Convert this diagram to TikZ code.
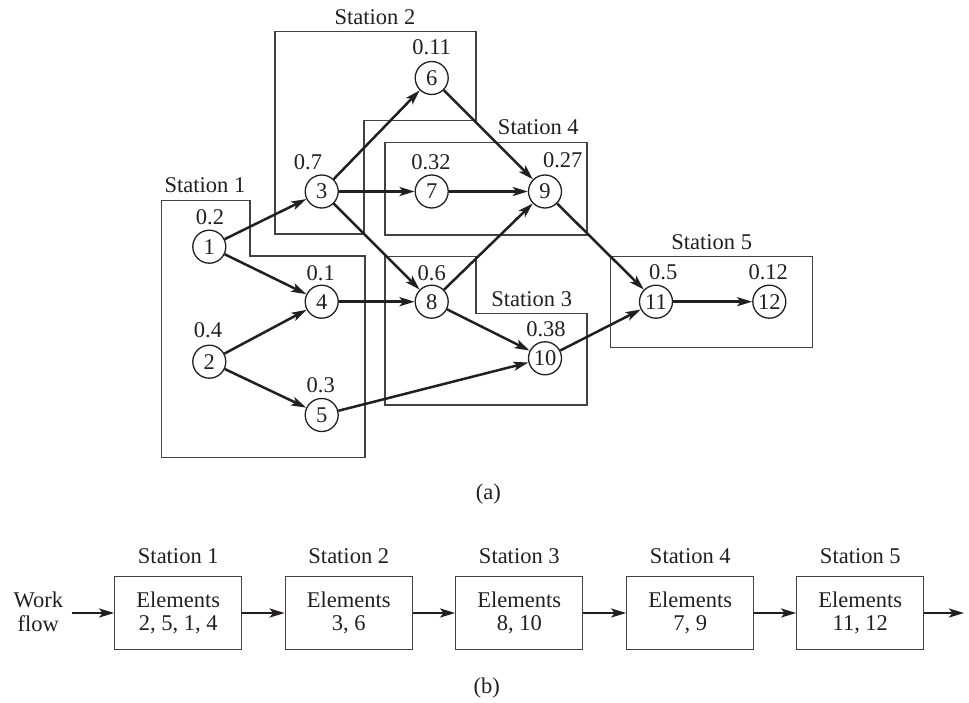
\documentclass[tikz,border=0pt]{standalone}
\usepackage{fontspec}
\setmainfont{Liberation Serif}
\usetikzlibrary{arrows.meta}
\definecolor{ink}{RGB}{35,31,32}
\begin{document}
\begin{tikzpicture}[x=1pt,y=-1pt,
  every node/.style={font=\fontsize{22.5}{26}\selectfont, text=ink},
  elem/.style={circle, draw=ink, line width=1.3pt, minimum size=33pt, inner sep=0pt},
  lbl/.style={inner sep=0pt},
  stbox/.style={draw=ink!85, line width=1.3pt},
  flow/.style={draw=ink, line width=2.5pt, -{Stealth[length=15pt,width=9pt,inset=3.5pt]}},
  blk/.style={draw=ink!85, line width=1.3pt, minimum width=127pt, minimum height=72.6pt, align=center, inner sep=0pt, font=\fontsize{22.5}{23.5}\selectfont}
]
\useasboundingbox (0,0) rectangle (969,703);

% station outlines (a)
\draw[stbox] (161.7,200.7) -- (250,200.7) -- (250,256) -- (365,256) -- (365,457.7) -- (161.7,457.7) -- cycle;
\draw[stbox] (275,31.7) -- (476,31.7) -- (476,120.7) -- (364,120.7) -- (364,234) -- (275,234) -- cycle;
\draw[stbox] (385,256.7) -- (476,256.7) -- (476,313.3) -- (587,313.3) -- (587,405) -- (385,405) -- cycle;
\draw[stbox] (385,142.7) rectangle (587,235);
\draw[stbox] (610.7,256.7) rectangle (812.3,347.7);

\node[lbl] (s1) at (205,185) {Station 1};
\node[lbl] (s2) at (375,17.3) {Station 2};
\node[lbl] (s3) at (531.7,299.3) {Station 3};
\node[lbl] (s4) at (538.3,126.7) {Station 4};
\node[lbl] (s5) at (711.7,241.7) {Station 5};

% elements
\node[elem] (n1) at (209.3,246.7) {1};
\node[elem] (n2) at (209.3,361.7) {2};
\node[elem] (n3) at (321.7,191.5) {3};
\node[elem] (n4) at (321.7,301.7) {4};
\node[elem] (n5) at (321.7,415) {5};
\node[elem] (n6) at (431.7,78) {6};
\node[elem] (n7) at (431.7,191.5) {7};
\node[elem] (n8) at (431.7,301.7) {8};
\node[elem] (n9) at (545,191.5) {9};
\node[elem] (n10) at (545,358.3) {10};
\node[elem] (n11) at (656,301.7) {11};
\node[elem] (n12) at (769.3,301.7) {12};

% times
\node[lbl] (t1) at (210,216.7) {0.2};
\node[lbl] (t2) at (208,330) {0.4};
\node[lbl] (t3) at (308,161.7) {0.7};
\node[lbl] (t4) at (320.7,272.7) {0.1};
\node[lbl] (t5) at (320.7,385) {0.3};
\node[lbl] (t6) at (431.7,47.3) {0.11};
\node[lbl] (t7) at (431,161.7) {0.32};
\node[lbl] (t8) at (431.7,272.7) {0.6};
\node[lbl] (t9) at (562.7,160) {0.27};
\node[lbl] (t10) at (546,329.3) {0.38};
\node[lbl] (t11) at (663.3,271.7) {0.5};
\node[lbl] (t12) at (768.3,271.7) {0.12};

% precedence arrows
\draw[flow] (n1) -- (n3);
\draw[flow] (n1) -- (n4);
\draw[flow] (n2) -- (n4);
\draw[flow] (n2) -- (n5);
\draw[flow] (n3) -- (n6);
\draw[flow] (n3) -- (n7);
\draw[flow] (n3) -- (n8);
\draw[flow] (n4) -- (n8);
\draw[flow] (n6) -- (n9);
\draw[flow] (n7) -- (n9);
\draw[flow] (n8) -- (n9);
\draw[flow] (n8) -- (n10);
\draw[flow] (n5) -- (n10);
\draw[flow] (n9) -- (n11);
\draw[flow] (n10) -- (n11);
\draw[flow] (n11) -- (n12);

\node[lbl] (capa) at (488.3,494) {(a)};

% (b) line
\node[lbl, align=center, font=\fontsize{22.5}{23.5}\selectfont] (wf) at (38.3,612) {Work\\flow};
\coordinate (wfs) at (71.7,613);
\node[blk] (b1) at (178.3,613) {Elements\\2, 5, 1, 4};
\node[blk] (b2) at (348.8,613) {Elements\\3, 6};
\node[blk] (b3) at (519.3,613) {Elements\\8, 10};
\node[blk] (b4) at (690.3,613) {Elements\\7, 9};
\node[blk] (b5) at (860.3,613) {Elements\\11, 12};
\coordinate (fend) at (964,613);

\node[lbl] (bs1) at (178.3,556) {Station 1};
\node[lbl] (bs2) at (348.8,556) {Station 2};
\node[lbl] (bs3) at (519.3,556) {Station 3};
\node[lbl] (bs4) at (690.3,556) {Station 4};
\node[lbl] (bs5) at (860.3,556) {Station 5};

\draw[flow] (wfs) -- (b1);
\draw[flow] (b1) -- (b2);
\draw[flow] (b2) -- (b3);
\draw[flow] (b3) -- (b4);
\draw[flow] (b4) -- (b5);
\draw[flow] (b5) -- (fend);

\node[lbl] (capb) at (486.7,688.3) {(b)};
\end{tikzpicture}
\end{document}
